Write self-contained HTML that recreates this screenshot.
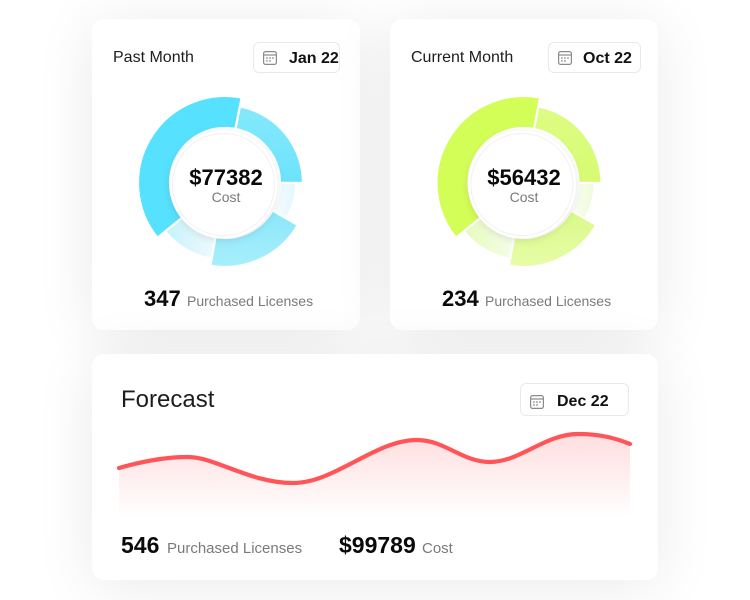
<!DOCTYPE html>
<html>
<head>
<meta charset="utf-8">
<style>
  html,body{margin:0;padding:0;background:#fff;}
  body{width:750px;height:600px;position:relative;overflow:hidden;font-family:"Liberation Sans",Arial,sans-serif;}
  .card{position:absolute;background:#fff;border-radius:12px;box-shadow:0 6px 60px rgba(0,0,0,0.085);}
  .t{position:absolute;white-space:nowrap;line-height:1;}
  .pill{position:absolute;border:1px solid #e9e9e9;border-radius:6px;background:#fff;box-sizing:border-box;}
  svg.ov{position:absolute;left:0;top:0;}
</style>
</head>
<body>
  <div class="card" style="left:92px;top:19px;width:268px;height:311px;"></div>
  <div class="card" style="left:390px;top:19px;width:268px;height:311px;"></div>
  <div class="card" style="left:92px;top:354px;width:566px;height:226px;"></div>

  <div class="pill" style="left:253px;top:42px;width:87px;height:31px;"></div>
  <div class="pill" style="left:548px;top:42px;width:93px;height:31px;"></div>
  <div class="pill" style="left:520px;top:383px;width:109px;height:33px;"></div>

  <svg class="ov" width="750" height="600" viewBox="0 0 750 600" xmlns="http://www.w3.org/2000/svg">
    <defs>
      <linearGradient id="b2" gradientUnits="userSpaceOnUse" x1="0" y1="-78" x2="0" y2="0"><stop offset="0" stop-color="#86E9FC"/><stop offset="1" stop-color="#6CE3FB"/></linearGradient>
      <linearGradient id="b3" gradientUnits="userSpaceOnUse" x1="48" y1="0" x2="72" y2="0"><stop offset="0" stop-color="#F9FDFE"/><stop offset="1" stop-color="#E0F6FC"/></linearGradient>
      <linearGradient id="b4" gradientUnits="userSpaceOnUse" x1="0" y1="30" x2="0" y2="84"><stop offset="0" stop-color="#8CE6FA"/><stop offset="1" stop-color="#A8EFFD"/></linearGradient>
      <linearGradient id="b5" gradientUnits="userSpaceOnUse" x1="-60" y1="0" x2="-10" y2="0"><stop offset="0" stop-color="#C6F2FC"/><stop offset="1" stop-color="#EEFAFD"/></linearGradient>

      <linearGradient id="g2" gradientUnits="userSpaceOnUse" x1="0" y1="-78" x2="0" y2="0"><stop offset="0" stop-color="#DEFC84"/><stop offset="1" stop-color="#D6FB72"/></linearGradient>
      <linearGradient id="g3" gradientUnits="userSpaceOnUse" x1="48" y1="0" x2="72" y2="0"><stop offset="0" stop-color="#FBFEF4"/><stop offset="1" stop-color="#EEFBD6"/></linearGradient>
      <linearGradient id="g4" gradientUnits="userSpaceOnUse" x1="0" y1="30" x2="0" y2="84"><stop offset="0" stop-color="#DAF98A"/><stop offset="1" stop-color="#E7FDA8"/></linearGradient>
      <linearGradient id="g5" gradientUnits="userSpaceOnUse" x1="-60" y1="0" x2="-10" y2="0"><stop offset="0" stop-color="#E5FBBC"/><stop offset="1" stop-color="#F6FDE8"/></linearGradient>

      <linearGradient id="area" gradientUnits="userSpaceOnUse" x1="0" y1="435" x2="0" y2="518"><stop offset="0" stop-color="#FF5A5F" stop-opacity="0.2"/><stop offset="1" stop-color="#FF5A5F" stop-opacity="0"/></linearGradient>

      <filter id="sh" x="-30%" y="-30%" width="160%" height="160%">
        <feDropShadow dx="0" dy="2" stdDeviation="4" flood-color="#000" flood-opacity="0.10"/>
      </filter>

      <g id="cal">
        <rect x="0.6" y="0.6" width="12.8" height="12.8" rx="2" fill="none" stroke="#8a8a8a" stroke-width="1.2"/>
        <line x1="0.6" y1="4" x2="13.4" y2="4" stroke="#8a8a8a" stroke-width="1.2"/>
        <rect x="3.2" y="6.3" width="1.5" height="1.5" fill="#8a8a8a"/>
        <rect x="6.2" y="6.3" width="1.5" height="1.5" fill="#8a8a8a"/>
        <rect x="9.2" y="6.3" width="1.5" height="1.5" fill="#8a8a8a"/>
        <rect x="3.2" y="9.2" width="1.5" height="1.5" fill="#8a8a8a"/>
        <rect x="6.2" y="9.2" width="1.5" height="1.5" fill="#8a8a8a"/>
      </g>
    </defs>

    <!-- Blue donut -->
    <g transform="translate(225,183)" stroke="#fff" stroke-width="2.2" stroke-linejoin="round">
      <path d="M -67.61 54.75 A 87 87 0 0 1 16.60 -85.40 L 10.49 -53.99 A 55 55 0 0 0 -42.74 34.61 Z" fill="#56E1FE"/>
      <path d="M 14.88 -76.56 A 78 78 0 0 1 78 0 L 55 0 A 55 55 0 0 0 10.49 -53.99 Z" fill="url(#b2)"/>
      <path d="M 71 0 A 71 71 0 0 1 61.49 35.5 L 47.63 27.5 A 55 55 0 0 0 55 0 Z" fill="url(#b3)"/>
      <path d="M 72.74 42 A 84 84 0 0 1 -14.58 82.72 L -9.55 54.16 A 55 55 0 0 0 47.63 27.5 Z" fill="url(#b4)"/>
      <path d="M -13.37 75.83 A 77 77 0 0 1 -59.84 48.46 L -42.74 34.61 A 55 55 0 0 0 -9.55 54.16 Z" fill="url(#b5)"/>
      <circle cx="-1.5" cy="1.5" r="54" fill="#fff" stroke="none" filter="url(#sh)"/>
      <circle cx="-1.5" cy="1.5" r="51" fill="none" stroke="#f1f1f1" stroke-width="1"/>
    </g>

    <!-- Green donut -->
    <g transform="translate(523.5,183)" stroke="#fff" stroke-width="2.2" stroke-linejoin="round">
      <path d="M -67.61 54.75 A 87 87 0 0 1 16.60 -85.40 L 10.49 -53.99 A 55 55 0 0 0 -42.74 34.61 Z" fill="#D3FD57"/>
      <path d="M 14.88 -76.56 A 78 78 0 0 1 78 0 L 55 0 A 55 55 0 0 0 10.49 -53.99 Z" fill="url(#g2)"/>
      <path d="M 71 0 A 71 71 0 0 1 61.49 35.5 L 47.63 27.5 A 55 55 0 0 0 55 0 Z" fill="url(#g3)"/>
      <path d="M 72.74 42 A 84 84 0 0 1 -14.58 82.72 L -9.55 54.16 A 55 55 0 0 0 47.63 27.5 Z" fill="url(#g4)"/>
      <path d="M -13.37 75.83 A 77 77 0 0 1 -59.84 48.46 L -42.74 34.61 A 55 55 0 0 0 -9.55 54.16 Z" fill="url(#g5)"/>
      <circle cx="-1.5" cy="1.5" r="54" fill="#fff" stroke="none" filter="url(#sh)"/>
      <circle cx="-1.5" cy="1.5" r="51" fill="none" stroke="#f1f1f1" stroke-width="1"/>
    </g>

    <!-- Forecast area + line -->
    <path d="M119,468 C140,462 165,457 188,457 C215,457 250,483 293,483 C335,483 375,440 417,440 C445,440 462,462 490,462 C520,462 545,434 578,434 C600,434 615,438 630,444 L630,518 L119,518 Z" fill="url(#area)"/>
    <path d="M119,468 C140,462 165,457 188,457 C215,457 250,483 293,483 C335,483 375,440 417,440 C445,440 462,462 490,462 C520,462 545,434 578,434 C600,434 615,438 630,444" fill="none" stroke="#FF5559" stroke-width="4.2" stroke-linecap="round"/>

    <use href="#cal" x="263" y="51"/>
    <use href="#cal" x="558" y="51"/>
    <use href="#cal" x="530" y="395"/>
  </svg>

  <!-- Card 1 text -->
  <div class="t" style="left:113px;top:49.8px;font-size:16px;color:#1d1d1d;">Past Month</div>
  <div class="t" style="left:289px;top:51px;font-size:16px;font-weight:bold;color:#111;">Jan 22</div>
  <div class="t" style="left:173px;top:167px;width:106px;text-align:center;font-size:22px;font-weight:bold;color:#0a0a0a;">$77382</div>
  <div class="t" style="left:173px;top:190px;width:106px;text-align:center;font-size:14px;color:#7a7a7a;">Cost</div>
  <div class="t" style="left:144px;top:287.5px;font-size:22px;font-weight:bold;color:#0a0a0a;">347</div>
  <div class="t" style="left:187px;top:294px;font-size:14px;color:#7a7a7a;">Purchased Licenses</div>

  <!-- Card 2 text -->
  <div class="t" style="left:411px;top:49.8px;font-size:16px;color:#1d1d1d;">Current Month</div>
  <div class="t" style="left:583px;top:51px;font-size:16px;font-weight:bold;color:#111;">Oct 22</div>
  <div class="t" style="left:471px;top:167px;width:106px;text-align:center;font-size:22px;font-weight:bold;color:#0a0a0a;">$56432</div>
  <div class="t" style="left:471px;top:190px;width:106px;text-align:center;font-size:14px;color:#7a7a7a;">Cost</div>
  <div class="t" style="left:442px;top:287.5px;font-size:22px;font-weight:bold;color:#0a0a0a;">234</div>
  <div class="t" style="left:485px;top:294px;font-size:14px;color:#7a7a7a;">Purchased Licenses</div>

  <!-- Forecast text -->
  <div class="t" style="left:121px;top:387.7px;font-size:24px;color:#1d1d1d;">Forecast</div>
  <div class="t" style="left:557px;top:393.5px;font-size:16px;font-weight:bold;color:#111;">Dec 22</div>
  <div class="t" style="left:121px;top:533.5px;font-size:23px;font-weight:bold;color:#0a0a0a;">546</div>
  <div class="t" style="left:167px;top:541px;font-size:15px;color:#7a7a7a;">Purchased Licenses</div>
  <div class="t" style="left:339px;top:533.5px;font-size:23px;font-weight:bold;color:#0a0a0a;">$99789</div>
  <div class="t" style="left:422px;top:541px;font-size:15px;color:#7a7a7a;">Cost</div>
</body>
</html>
